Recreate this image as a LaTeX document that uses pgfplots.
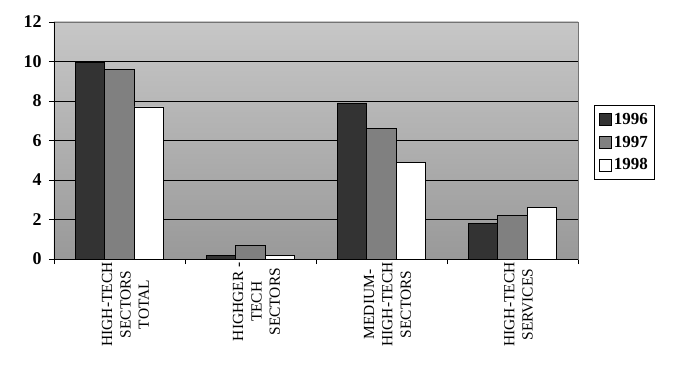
\documentclass[border=0pt]{standalone}
\usepackage{fontspec}
\setmainfont{Liberation Serif}
\usepackage{pgfplots}
\pgfplotsset{compat=1.18}
\begin{document}
\begin{tikzpicture}
\path[use as bounding box] (-54bp,-113bp) rectangle (622bp,259bp);
\begin{axis}[
  at={(0,0)}, anchor=south west, scale only axis,
  width=524bp, height=237bp,
  xmin=-0.5, xmax=3.5, ymin=0, ymax=12,
  ytick={0,2,...,12},
  xtick={-0.5,0.5,1.5,2.5,3.5}, xticklabels={},
  xtick pos=bottom, ytick pos=left,
  extra x ticks={0,1,2,3},
  extra x tick labels={{HIGH-TECH\\SECTORS\\TOTAL},{HIGHGER -\\TECH\\SECTORS},{MEDIUM-\\HIGH-TECH\\SECTORS},{HIGH-TECH\\SERVICES}},
  extra x tick style={major tick length=0pt, xticklabel style={rotate=90, anchor=east, align=center, font=\fontsize{15.5}{18.5}\selectfont, yshift=-6bp}},
  extra y ticks={2,4,6,8,10}, extra y tick labels={},
  extra y tick style={ymajorgrids=true, major tick length=0pt},
  grid style={black, line width=0.8pt},
  ybar=0pt, bar width=29.5bp,
  axis background/.style={top color=black!22, bottom color=black!40},
  axis line style={black!55, line width=0.8pt},
  tick align=outside, major tick length=5bp,
  tick style={black, line width=0.8pt},
  /pgf/number format/assume math mode=true,
  yticklabel style={font=\fontsize{18}{18}\selectfont\bfseries, xshift=-4bp},
  legend style={at={(1.0305,0.65)}, anchor=north west, draw=black, line width=0.8pt,
    font=\fontsize{17}{17}\selectfont\bfseries, row sep=6bp, inner xsep=5bp, inner ysep=6bp,
    /tikz/every even column/.append style={column sep=1bp}},
  legend cell align=left,
  legend image code/.code={\draw[#1, draw=black, line width=0.6pt] (0bp,-6bp) rectangle (12bp,6bp);},
]
\addplot[fill=black!80, draw=black, line width=0.8pt] coordinates {(0,9.95) (1,0.2) (2,7.9) (3,1.8)};
\addplot[fill=black!50, draw=black, line width=0.8pt] coordinates {(0,9.6) (1,0.7) (2,6.6) (3,2.2)};
\addplot[fill=white, draw=black, line width=0.8pt] coordinates {(0,7.7) (1,0.2) (2,4.9) (3,2.6)};
\legend{1996,1997,1998}
\draw[black, line width=0.8pt] (rel axis cs:0,1) -- (rel axis cs:0,0) -- (rel axis cs:1,0);
\end{axis}
\end{tikzpicture}
\end{document}
